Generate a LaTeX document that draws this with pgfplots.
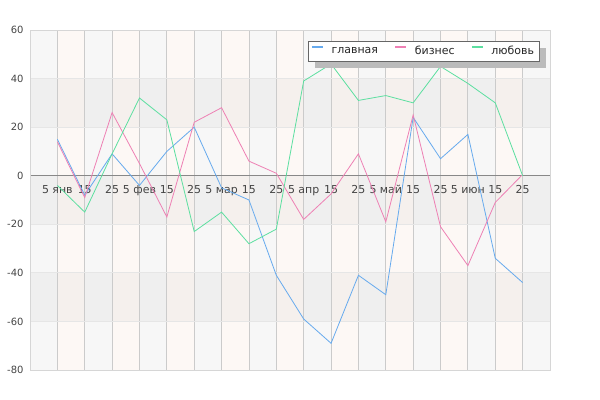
\documentclass[border=0pt]{standalone}
\usepackage{pgfplots}
\pgfplotsset{compat=1.18}
\usepackage{fontspec}
\setmainfont{DejaVu Sans}
\usetikzlibrary{shadows}
\makeatletter
\tikzset{nopre/.code={\let\tikz@preactions\pgfutil@empty}}
\makeatother
\definecolor{graybg}{HTML}{F7F7F7}
\definecolor{pinkbg}{HTML}{FDF8F5}
\definecolor{vgrid}{HTML}{CBCBCB}
\definecolor{hgrid}{HTML}{E6E6E6}
\definecolor{frame}{HTML}{D6D6D6}
\definecolor{zeroline}{HTML}{888888}
\definecolor{lbl}{HTML}{444444}
\definecolor{cblue}{HTML}{66AAEE}
\definecolor{cpink}{HTML}{EE80B4}
\definecolor{cgreen}{HTML}{5CDFA0}
\definecolor{shadowc}{HTML}{BBBBBB}
\begin{document}
\begin{tikzpicture}
\useasboundingbox (0,0) rectangle (600bp,400bp);
% background columns
\foreach \i in {0,...,18} {
  \pgfmathsetmacro\xa{30+\i*520/19}
  \pgfmathsetmacro\xb{30+(\i+1)*520/19}
  \ifodd\i \def\c{pinkbg}\else\def\c{graybg}\fi
  \fill[\c] (\xa bp,30bp) rectangle (\xb bp,370bp);
}
% darker horizontal bands
\fill[black,opacity=0.03] (30bp,272.86bp) rectangle (550bp,321.43bp);
\fill[black,opacity=0.03] (30bp,175.71bp) rectangle (550bp,224.29bp);
\fill[black,opacity=0.03] (30bp,78.57bp) rectangle (550bp,127.14bp);
\begin{axis}[
  at={(30bp,30bp)}, anchor=south west,
  scale only axis, width=520bp, height=340bp,
  xmin=-1, xmax=18, ymin=-80, ymax=60,
  axis x line*=middle, axis y line*=left,
  x axis line style={draw=zeroline, line width=0.8bp},
  y axis line style={draw=frame},
  xtick={0,...,17},
  xticklabels={5 янв,15,25,5 фев,15,25,5 мар,15,25,5 апр,15,25,5 май,15,25,5 июн,15,25},
  ytick={-80,-60,-40,-20,0,20,40,60},
  yticklabels={-80,-60,-40,-20,0,20,40,60},
  major tick length=0pt,
  xmajorgrids, ymajorgrids,
  x grid style={vgrid, line width=0.8bp},
  y grid style={hgrid, line width=0.8bp},
  tick label style={font=\fontsize{10}{12}\selectfont, text=lbl},
  xticklabel style={font=\fontsize{11}{13}\selectfont, yshift=-6bp},
  yticklabel style={xshift=-3bp},
  legend style={at={(0.5346,0.9685)}, anchor=north west, draw=black!60, fill=white,
    font=\fontsize{11}{13}\selectfont, text=black!85,
    drop shadow={shadow xshift=7bp, shadow yshift=-7bp, fill=shadowc, opacity=1},
    inner xsep=3bp, inner ysep=3bp,
    /tikz/every even column/.append style={column sep=14.5bp}},
  legend columns=3,
  legend image code/.code={\draw[nopre, line width=2bp] (0bp,3.5bp) -- (11bp,3.5bp); \path[nopre] (17bp,3.5bp);},
  every axis plot/.append style={line width=0.8bp, no markers},
  clip=false,
]
\draw[frame, line width=0.8bp] (rel axis cs:0,0) rectangle (rel axis cs:1,1);
\addplot[cblue] coordinates {(0,15) (1,-8) (2,9) (3,-4) (4,10) (5,20) (6,-5) (7,-10) (8,-41) (9,-59) (10,-69) (11,-41) (12,-49) (13,24) (14,7) (15,17) (16,-34) (17,-44)};
\addlegendentry{главная}
\addplot[cpink] coordinates {(0,14) (1,-9) (2,26) (3,5) (4,-17) (5,22) (6,28) (7,6) (8,1) (9,-18) (10,-7.5) (11,9) (12,-19) (13,25) (14,-21) (15,-37) (16,-11) (17,0.5)};
\addlegendentry{бизнес}
\addplot[cgreen] coordinates {(0,-4) (1,-15) (2,9) (3,32) (4,23) (5,-23) (6,-15) (7,-28) (8,-22) (9,39) (10,46) (11,31) (12,33) (13,30) (14,45) (15,38) (16,30) (17,0)};
\addlegendentry{любовь}
\end{axis}
\end{tikzpicture}
\end{document}
